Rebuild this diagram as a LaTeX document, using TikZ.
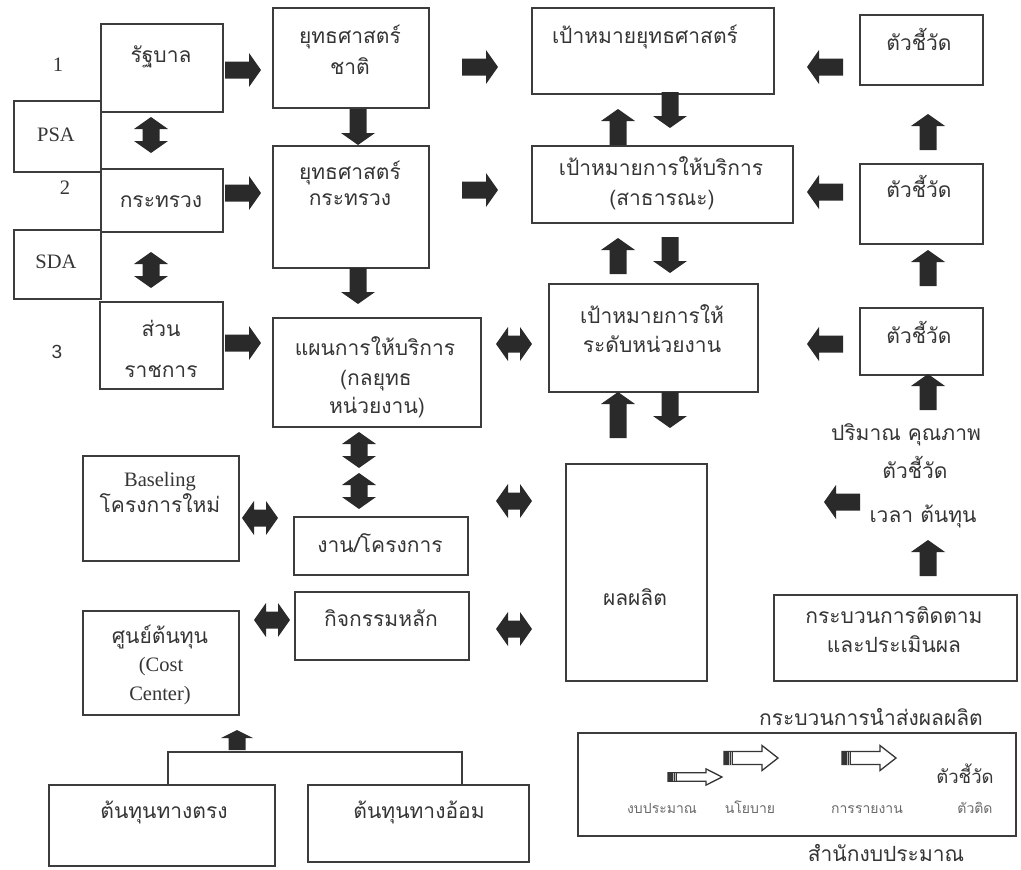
\documentclass[tikz,border=0pt]{standalone}
\usepackage{fontspec}
\setmainfont{Liberation Serif}
\newfontfamily\thaifont[Script=Thai]{Loma}
\newfontfamily\latinsans{Liberation Sans}
\usetikzlibrary{calc}
\definecolor{ink}{HTML}{353535}
\definecolor{frame}{HTML}{3C3C3C}
\definecolor{arrowfill}{HTML}{2A2A2A}
\definecolor{softink}{HTML}{6A6A6A}
\tikzset{
  box/.style={draw=frame, line width=1.7pt, inner sep=0pt, anchor=north west},
  th/.style={font=\thaifont\fontsize{21}{25}\selectfont, text=ink, inner sep=0pt, text height=10pt, text depth=0pt},
  thsmall/.style={th, font=\thaifont\fontsize{14}{17}\selectfont, text=softink, text height=7pt},
  lat/.style={font=\fontsize{20.5}{24}\selectfont, text=ink, inner sep=0pt, text height=13pt, text depth=0pt},
  tree/.style={draw=frame, line width=1.5pt},
  % solid block arrow pointing along +x, half length #1
  pics/fat/.style={code={
    \fill[arrowfill] (-#1,-8.5) -- ({#1-12},-8.5) -- ({#1-12},-17) -- (#1,0)
      -- ({#1-12},17) -- ({#1-12},8.5) -- (-#1,8.5) -- cycle;}},
  pics/fat/.default=18,
  % solid block arrow with a head at both ends
  pics/fatboth/.style={code={
    \fill[arrowfill] (-18,0) -- (-6,-17) -- (-6,-8.5) -- (6,-8.5) -- (6,-17) -- (18,0)
      -- (6,17) -- (6,8.5) -- (-6,8.5) -- (-6,17) -- cycle;}},
  % short stubby arrow
  pics/stub/.style={code={
    \fill[arrowfill] (-10,-8.5) -- (2,-8.5) -- (2,-16) -- (10,0)
      -- (2,16) -- (2,8.5) -- (-10,8.5) -- cycle;}},
  % outlined arrow with a dark banded tail
  pics/hollow/.style={code={
    \filldraw[fill=white, draw=ink, line width=1.3pt] (-27,-6.5) -- (11,-6.5) -- (11,-12.5)
      -- (27,0) -- (11,12.5) -- (11,6.5) -- (-27,6.5) -- cycle;
    \fill[ink] (-27,-6.5) rectangle (-18,6.5);
    \draw[white!65!ink, line width=0.8pt] (-21.5,-6.5) -- (-21.5,6.5) (-19.3,-6.5) -- (-19.3,6.5);}},
}
\newcommand\mkbox[5]{\node[box, minimum width={#4-#2}, minimum height={#5-#3}] (#1) at (#2,#3) {};}
\begin{document}
\begin{tikzpicture}[x=1pt,y=-1pt]
\useasboundingbox[fill=white] (0,0) rectangle (1021,870);

% ---- left column: levels of government ----
\mkbox{gov}{100}{23}{222}{111}
\mkbox{psa}{13}{100}{100}{171}
\mkbox{min}{100}{168}{222}{231}
\mkbox{sda}{13}{229}{100}{298}
\mkbox{dept}{99}{301}{222}{388}
\node[lat] (lv1) at (58,65) {1};
\node[lat] (lv2) at (65,188) {2};
\node[lat, font=\latinsans\fontsize{19}{22}\selectfont] (lv3) at (57,352) {3};
\node[th] (gov-t) at (161,57) {รัฐบาล};
\node[lat] (psa-t) at (56,135) {PSA};
\node[th] (min-t) at (161,202) {กระทรวง};
\node[lat] (sda-t) at (56,262) {SDA};
\node[th] (dept-t1) at (161,331) {ส่วน};
\node[th] (dept-t2) at (161,372) {ราชการ};

% ---- strategy column ----
\mkbox{natstrat}{272}{7}{428}{107}
\mkbox{minstrat}{272}{145}{428}{267}
\mkbox{plan}{272}{317}{480}{426}
\node[th] (ns-t1) at (350,38) {ยุทธศาสตร์};
\node[th] (ns-t2) at (350,69) {ชาติ};
\node[th] (ms-t1) at (350,174) {ยุทธศาสตร์};
\node[th] (ms-t2) at (350,200) {กระทรวง};
\node[th] (pl-t1) at (375,350) {แผนการให้บริการ};
\node[th] (pl-t2) at (376,380) {(กลยุทธ};
\node[th] (pl-t3) at (377,408) {หน่วยงาน)};

% ---- projects, activities and cost centres ----
\mkbox{base}{82}{455}{238}{560}
\mkbox{proj}{293}{516}{467}{574}
\mkbox{act}{294}{591}{468}{659}
\mkbox{cost}{82}{610}{238}{714}
\mkbox{direct}{48}{784}{274}{865}
\mkbox{indirect}{307}{784}{528}{861}
\node[lat] (base-t1) at (160,480) {Baseling};
\node[th] (base-t2) at (160,507) {โครงการใหม่};
\node[th] (proj-t) at (380,547) {งาน/โครงการ};
\node[th] (act-t) at (381,621) {กิจกรรมหลัก};
\node[th] (cost-t1) at (160,638) {ศูนย์ต้นทุน};
\node[lat] (cost-t2) at (161,665) {(Cost};
\node[lat] (cost-t3) at (160,694) {Center)};
\node[th] (direct-t) at (164,813) {ต้นทุนทางตรง};
\node[th] (indirect-t) at (419,813) {ต้นทุนทางอ้อม};
\draw[tree] (direct.north -| 168,0) |- (462,752) -- (indirect.north -| 462,0);
\pic[rotate=90] at (237,740) {stub};

% ---- goals column ----
\mkbox{stgoal}{531}{7}{773}{93}
\mkbox{svgoal}{531}{145}{792}{222}
\mkbox{unitgoal}{548}{283}{757}{391}
\mkbox{output}{565}{463}{706}{680}
\node[th] (sg-t) at (645,38) {เป้าหมายยุทธศาสตร์};
\node[th] (sv-t1) at (661,170) {เป้าหมายการให้บริการ};
\node[th] (sv-t2) at (662,200) {(สาธารณะ)};
\node[th] (ug-t1) at (652,318) {เป้าหมายการให้};
\node[th] (ug-t2) at (652,347) {ระดับหน่วยงาน};
\node[th] (out-t) at (635,600) {ผลผลิต};

% ---- indicators column ----
\mkbox{ind1}{859}{14}{982}{84}
\mkbox{ind2}{859}{163}{982}{243}
\mkbox{ind3}{859}{307}{982}{374}
\mkbox{monitor}{773}{594}{1016}{680}
\node[th] (i1-t) at (919,45) {ตัวชี้วัด};
\node[th] (i2-t) at (919,192) {ตัวชี้วัด};
\node[th] (i3-t) at (919,338) {ตัวชี้วัด};
\node[th] (q-t1) at (906,435) {ปริมาณ คุณภาพ};
\node[th] (q-t2) at (915,473) {ตัวชี้วัด};
\node[th] (q-t3) at (923,517) {เวลา ต้นทุน};
\node[th] (mon-t1) at (894,618) {กระบวนการติดตาม};
\node[th] (mon-t2) at (894,647) {และประเมินผล};

% ---- delivery legend ----
\mkbox{legend}{577}{732}{1015}{835}
\node[th] (leg-title) at (871,720) {กระบวนการนำส่งผลผลิต};
\node[th] (leg-foot) at (886,856) {สำนักงบประมาณ};
\pic[yscale=0.65] at (695,777) {hollow};
\pic at (751,758) {hollow};
\pic at (869,758) {hollow};
\node[thsmall] (leg-a) at (662,810) {งบประมาณ};
\node[thsmall] (leg-b) at (750,810) {นโยบาย};
\node[thsmall] (leg-c) at (867,810) {การรายงาน};
\node[th, font=\thaifont\fontsize{18.5}{22}\selectfont] (leg-d) at (965,778) {ตัวชี้วัด};
\node[thsmall] (leg-e) at (975,810) {ตัวติด};

% ---- block arrows: rightwards ----
\pic at (243,70) {fat};
\pic at (243,193) {fat};
\pic at (243,343) {fat};
\pic at (480,67) {fat};
\pic at (480,190) {fat};
% leftwards
\pic[rotate=180] at (825,67) {fat};
\pic[rotate=180] at (825,192) {fat};
\pic[rotate=180] at (825,344) {fat};
\pic[rotate=180] at (842,502) {fat};
% downwards
\pic[rotate=-90] at (358,127) {fat};
\pic[rotate=-90] at (358,286) {fat};
\pic[rotate=-90] at (670,110) {fat};
\pic[rotate=-90] at (670,255) {fat};
\pic[rotate=-90] at (670,410) {fat};
% upwards
\pic[rotate=90] at (618,127) {fat};
\pic[rotate=90] at (618,256) {fat};
\pic[rotate=90] at (618,415) {fat=23};
\pic[rotate=90] at (928,132) {fat};
\pic[rotate=90] at (928,268) {fat};
\pic[rotate=90] at (928,392) {fat};
\pic[rotate=90] at (928,558) {fat};
% two-way arrows
\pic[rotate=90] at (151,135) {fatboth};
\pic[rotate=90] at (151,270) {fatboth};
\pic[rotate=90] at (359,450) {fatboth};
\pic[rotate=90] at (359,491) {fatboth};
\pic at (514,344) {fatboth};
\pic at (260,518) {fatboth};
\pic at (272,620) {fatboth};
\pic at (514,501) {fatboth};
\pic at (514,629) {fatboth};
\end{tikzpicture}
\end{document}
